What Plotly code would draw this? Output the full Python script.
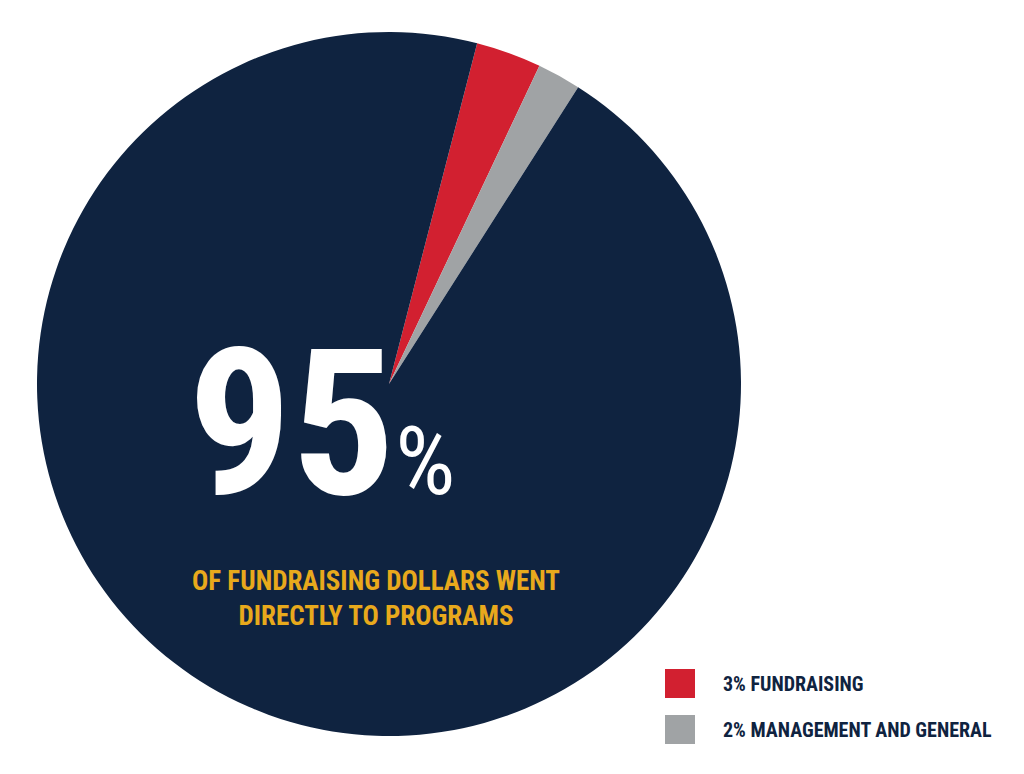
import plotly.graph_objects as go

labels = ["3% FUNDRAISING", "2% MANAGEMENT AND GENERAL", "95% PROGRAMS"]
values = [3, 2, 95]
colors = ["#D22030", "#A0A3A5", "#0F2340"]
legend_items = [("3% FUNDRAISING", "#D22030"), ("2% MANAGEMENT AND GENERAL", "#A0A3A5")]

W, H = 1024, 774
fig = go.Figure(go.Pie(
    labels=labels, values=values, sort=False, direction="clockwise", rotation=14.5,
    marker=dict(colors=colors, line=dict(width=0)), textinfo="none", hoverinfo="label",
    domain=dict(x=[29/W, 733/W], y=[1-728/H, 1-24/H]),
))

font = "Liberation Sans Narrow, Roboto Condensed, Arial Narrow, sans-serif"
ann = [
    dict(x=178/W, y=1-538/H, xanchor="left", yanchor="bottom",
         text="<b>95</b><span style='font-size:95px'>%</span>",
         font=dict(family=font, size=205, color="white")),
    dict(x=368/W, y=1-590/H, xanchor="center", yanchor="middle",
         text="<b>OF FUNDRAISING DOLLARS WENT<br>DIRECTLY TO PROGRAMS</b>",
         font=dict(family=font, size=27, color="#E8A91C")),
]
shapes = []
for i, (t, c) in enumerate(legend_items):
    y0 = 661 + i * 46
    shapes.append(dict(type="rect", xref="paper", yref="paper", x0=657/W, x1=687/W,
                       y0=1-(y0+29)/H, y1=1-y0/H, fillcolor=c, line=dict(width=0)))
    ann.append(dict(x=713/W, y=1-(y0+15)/H, xanchor="left", yanchor="middle", text=f"<b>{t}</b>",
                    font=dict(family=font, size=20, color="#0F2340")))
for a in ann:
    a.update(xref="paper", yref="paper", showarrow=False)

fig.update_layout(width=W, height=H, margin=dict(l=0, r=0, t=0, b=0), showlegend=False,
                  paper_bgcolor="white", annotations=ann, shapes=shapes)
fig.write_html("out.html")
